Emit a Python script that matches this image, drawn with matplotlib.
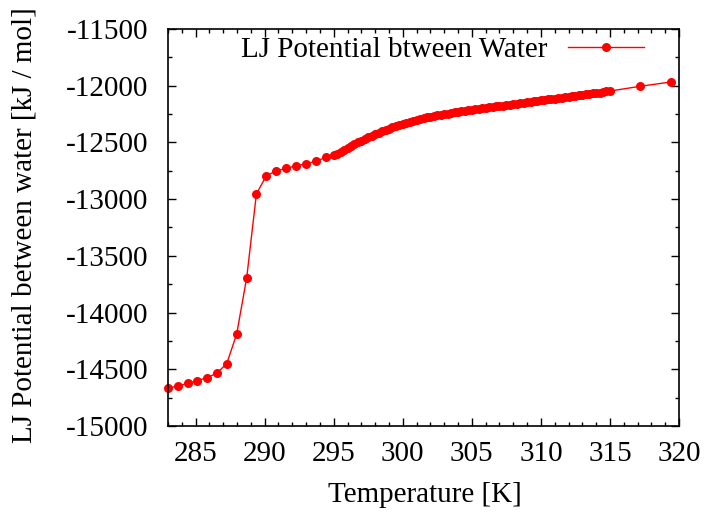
import numpy as np
import matplotlib
matplotlib.use("Agg")
from matplotlib import pyplot as plt
from matplotlib.ticker import MultipleLocator

plt.rcParams['font.family'] = ['Liberation Serif', 'DejaVu Serif']
plt.rcParams['font.size'] = 21
plt.rcParams['axes.unicode_minus'] = False

# temperature scan [K] and LJ energy between water molecules [kJ/mol]
temp_coarse = [283.00, 283.72, 284.44, 285.12, 285.85, 286.54, 287.25, 287.97,
               288.70, 289.40, 290.12, 290.82, 291.54, 292.27, 292.99, 293.72,
               294.44]
lj_coarse = [-14667, -14647, -14624, -14600, -14574, -14533, -14451, -14191,
             -13692, -12955, -12793, -12752, -12728, -12708, -12687, -12666,
             -12631]

temp_fine = [295.00, 295.25, 295.50, 295.75, 296.00, 296.25, 296.50, 296.75,
             297.00, 297.25, 297.50, 297.75, 298.00, 298.25, 298.50, 298.75,
             299.00, 299.25, 299.50, 299.75, 300.00, 300.25, 300.50, 300.75,
             301.00, 301.25, 301.50, 301.75, 302.00, 302.25, 302.50, 302.75,
             303.00, 303.25, 303.50, 303.75, 304.00, 304.25, 304.50, 304.75,
             305.00, 305.25, 305.50, 305.75, 306.00, 306.25, 306.50, 306.75,
             307.00, 307.25, 307.50, 307.75, 308.00, 308.25, 308.50, 308.75,
             309.00, 309.25, 309.50, 309.75, 310.00, 310.25, 310.50, 310.75,
             311.00, 311.25, 311.50, 311.75, 312.00, 312.25, 312.50, 312.75,
             313.00, 313.25, 313.50, 313.75, 314.00, 314.25, 314.50, 314.75,
             315.00]
lj_fine = [-12615, -12600, -12585, -12568, -12550, -12533, -12516, -12500,
           -12484, -12469, -12455, -12441, -12428, -12415, -12402, -12390,
           -12378, -12366, -12355, -12345, -12335, -12326, -12318, -12309,
           -12301, -12294, -12287, -12280, -12274, -12268, -12262, -12256,
           -12251, -12245, -12240, -12235, -12230, -12225, -12221, -12216,
           -12212, -12207, -12203, -12199, -12195, -12191, -12187, -12183,
           -12180, -12176, -12172, -12167, -12163, -12159, -12155, -12150,
           -12146, -12142, -12138, -12134, -12130, -12125, -12121, -12117,
           -12113, -12109, -12105, -12101, -12097, -12093, -12089, -12085,
           -12081, -12077, -12073, -12068, -12064, -12060, -12056, -12051,
           -12047]

temp_tail = [317.20, 319.42]
lj_tail = [-12005, -11967]

T = np.array(temp_coarse + temp_fine + temp_tail)
E = np.array(lj_coarse + lj_fine + lj_tail)

fig = plt.figure(figsize=(7.05, 5.12), dpi=100)
ax = fig.add_axes([168/705, 1 - 426/512, 511/705, 397/512])

ax.plot(T, E, color='red', lw=1.0, marker='o', ms=6.5, mew=0,
        clip_on=False, label='LJ Potential btween Water')

ax.set_xlim(T[0], 320)
ax.set_ylim(-15000, -11500)
ax.xaxis.set_major_locator(MultipleLocator(5))
ax.xaxis.set_minor_locator(MultipleLocator(1))
ax.yaxis.set_major_locator(MultipleLocator(500))
ax.yaxis.set_minor_locator(MultipleLocator(250))
ax.tick_params(which='both', direction='in', top=True, right=True, width=1)
ax.tick_params(which='major', length=6)
ax.tick_params(which='minor', length=3)
ax.tick_params(axis='y', which='major', pad=14)
ax.tick_params(axis='x', which='major', pad=11)
for s in ax.spines.values():
    s.set_linewidth(1.2)

ax.set_xlabel('Temperature [K]')
ax.set_ylabel('LJ Potential between water [kJ / mol]')
ax.xaxis.set_label_coords(0.503, -0.14)
ax.yaxis.set_label_coords(-0.256, 0.505)

ax.legend(loc='center right', bbox_to_anchor=(476/511, (426 - 50)/397),
          frameon=False, markerfirst=False, handlelength=2.6,
          handletextpad=0.7, borderpad=0, borderaxespad=0)

fig.savefig('out.png', dpi=100)
